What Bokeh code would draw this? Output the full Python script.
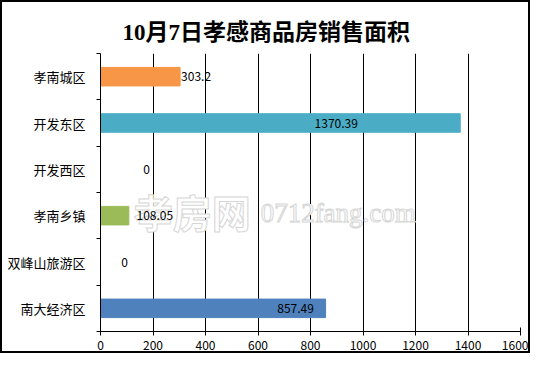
from bokeh.plotting import figure
from bokeh.models import ColumnDataSource, FixedTicker, Range1d
from bokeh.core.properties import value
from bokeh.embed import file_html
from bokeh.resources import INLINE

categories = ["孝南城区", "开发东区", "开发西区", "孝南乡镇", "双峰山旅游区", "南大经济区"]
areas = [303.2, 1370.39, 0, 108.05, 0, 857.49]
value_labels = ["303.2", "1370.39", "0", "108.05", "0", "857.49"]
colors = ["#F79646", "#4BACC6", "#9BBB59", "#9BBB59", "#9BBB59", "#4F81BD"]
label_offsets = [16, -124, 46, 26, 24, -30]
x_ticks = [0, 200, 400, 600, 800, 1000, 1200, 1400, 1600]
watermark_text = ["孝房网", "0712fang.com"]

n = len(categories)
ypos = [n - i - 0.5 for i in range(n)]

src = ColumnDataSource(dict(y=ypos, right=areas, color=colors, lab=value_labels, off=label_offsets))

p = figure(width=530, height=353, output_backend="svg", toolbar_location=None,
           x_range=Range1d(0, 1600), y_range=Range1d(0, n),
           min_border_left=98, min_border_right=12, min_border_top=51, min_border_bottom=24)
p.styles = {"border": "2px solid black", "box-sizing": "border-box"}
p.background_fill_color = "white"
p.border_fill_color = "white"
p.outline_line_color = None

p.title.text = "10月7日孝感商品房销售面积"
p.title.align = "left"
p.title.text_color = "black"
p.title.text_font = "Liberation Serif, Noto Sans CJK SC"
p.title.text_font_size = "23px"
p.title.text_font_style = "bold"
p.title.offset = 22
p.title.standoff = 17

# watermark (decorative), drawn under the bars and labels
p.text(x=[127], y=[n - 3.4], text=[watermark_text[0]], text_font_size="39px",
       text_font_style="bold", text_font=value("Noto Sans CJK SC"), text_color="white",
       text_outline_color="#d6d6d6", text_baseline="middle", text_align="left")
p.text(x=[610], y=[n - 3.45], text=[watermark_text[1]], text_font_size="27px",
       text_font=value("Liberation Serif"), text_color="white",
       text_outline_color="#d6d6d6", text_baseline="middle", text_align="left")

p.hbar(y="y", left=0, right="right", height=0.4, color="color", source=src)
p.text(x="right", y="y", text="lab", x_offset="off", source=src,
       text_align="center", text_baseline="middle", text_font_size="12px",
       text_font=value("Noto Sans CJK SC"), text_color="black")

p.xaxis.ticker = FixedTicker(ticks=x_ticks)
p.xaxis.axis_line_color = "black"
p.xaxis.major_tick_in = 4
p.xaxis.major_tick_out = 4
p.xaxis.major_tick_line_color = "black"
p.xaxis.minor_tick_line_color = None
p.xaxis.major_label_text_font = "Noto Sans CJK SC"
p.xaxis.major_label_text_font_size = "12px"
p.xaxis.major_label_standoff = 5
p.xaxis.major_label_text_color = "black"

p.yaxis.ticker = FixedTicker(ticks=ypos, minor_ticks=list(range(n + 1)))
p.yaxis.major_label_overrides = {y: c for y, c in zip(ypos, categories)}
p.yaxis.major_tick_line_color = None
p.yaxis.minor_tick_in = 0
p.yaxis.minor_tick_out = 4
p.yaxis.minor_tick_line_color = "black"
p.yaxis.axis_line_color = "black"
p.yaxis.major_label_text_font = "Noto Sans CJK SC"
p.yaxis.major_label_text_font_size = "13px"
p.yaxis.major_label_text_color = "black"
p.yaxis.major_label_standoff = 9

p.xgrid.ticker = FixedTicker(ticks=x_ticks)
p.xgrid.grid_line_color = "black"
p.ygrid.grid_line_color = None

open("out.html", "w").write(file_html(p, INLINE))
